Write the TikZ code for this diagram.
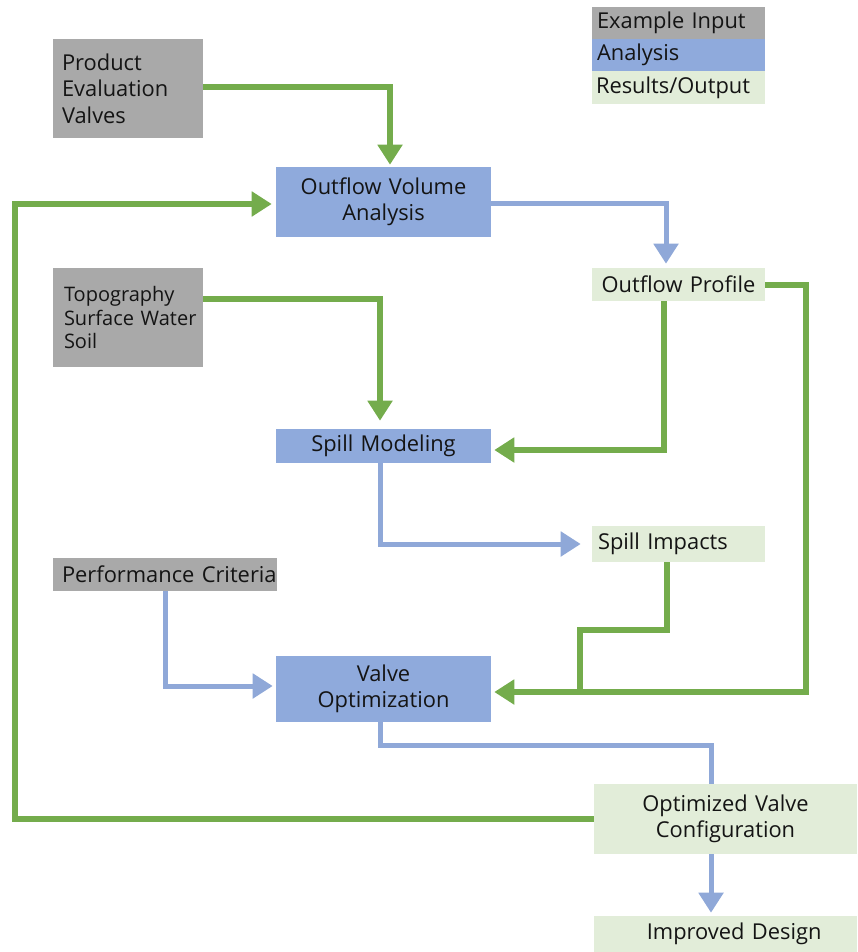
\documentclass[tikz,border=0pt]{standalone}
\usepackage{fontspec}
\setmainfont{Open Sans}
\usetikzlibrary{arrows.meta,calc}
\definecolor{ingray}{RGB}{169,169,169}
\definecolor{anblue}{RGB}{143,170,220}
\definecolor{resgreen}{RGB}{226,237,217}
\definecolor{lgreen}{RGB}{116,172,76}
\definecolor{lblue}{RGB}{143,168,216}
\definecolor{txt}{RGB}{20,20,20}
\def\PX{0.75pt}
\begin{document}
\begin{tikzpicture}[x=0.75pt,y=-0.75pt,
  bx/.style={inner ysep=0pt, text=txt, font=\fontsize{16.4}{19.8}\selectfont},
  gline/.style={draw=lgreen, line width=6*\PX, line join=miter},
  bline/.style={draw=lblue, line width=5*\PX, line join=miter},
  garr/.style={gline, -{Triangle[length=20*\PX, width=24*\PX]}},
  barr/.style={bline, -{Triangle[length=20*\PX, width=24*\PX]}}]
\useasboundingbox (0,0) rectangle (857,952);
% legend
\node[bx, fill=ingray, minimum width=173*\PX, minimum height=32*\PX, text width=163*\PX, inner xsep=5*\PX, align=left] (l1) at (678.5,23) {\raisebox{-2pt}{Example Input}};
\node[bx, fill=anblue, minimum width=173*\PX, minimum height=32*\PX, text width=163*\PX, inner xsep=5*\PX, align=left] (l2) at (678.5,55) {Analysis};
\node[bx, fill=resgreen, minimum width=173*\PX, minimum height=33*\PX, text width=165*\PX, inner xsep=4*\PX, align=left] (l3) at (678.5,87.5) {\raisebox{-1pt}{Results/Output}};
% inputs
\node[bx, fill=ingray, minimum width=150*\PX, minimum height=99*\PX, text width=132*\PX, inner xsep=9*\PX, align=left] (pev) at (128,88.5) {Product\\Evaluation\\Valves};
\node[bx, fill=ingray, minimum width=150*\PX, minimum height=99*\PX, text width=128*\PX, inner xsep=11*\PX, align=left, font=\fontsize{15}{17.6}\selectfont] (tss) at (128,317.5) {\mbox{Topography}\\\mbox{Surface Water}\\\mbox{Soil}};
\node[bx, fill=ingray, minimum width=224*\PX, minimum height=33*\PX, text width=206*\PX, inner xsep=9*\PX, align=left] (pc) at (165,574.5) {\mbox{Performance Criteria}};
% analysis
\node[bx, fill=anblue, minimum width=215*\PX, minimum height=70*\PX, text width=205*\PX, inner xsep=5*\PX, align=center] (ova) at (383.5,202) {Outflow Volume\\Analysis};
\node[bx, fill=anblue, minimum width=215*\PX, minimum height=34*\PX, text width=205*\PX, inner xsep=5*\PX, align=center] (sm) at (383.5,446) {Spill Modeling};
\node[bx, fill=anblue, minimum width=215*\PX, minimum height=66*\PX, text width=205*\PX, inner xsep=5*\PX, align=center] (vo) at (383.5,689) {Valve\\Optimization};
% results
\node[bx, fill=resgreen, minimum width=173*\PX, minimum height=33*\PX, text width=163*\PX, inner xsep=5*\PX, align=center] (op) at (678.5,284.5) {Outflow Profile};
\node[bx, fill=resgreen, minimum width=173*\PX, minimum height=36*\PX, text width=161*\PX, inner xsep=6*\PX, align=left] (si) at (678.5,544) {Spill Impacts};
\node[bx, fill=resgreen, minimum width=263*\PX, minimum height=70*\PX, text width=253*\PX, inner xsep=5*\PX, align=center] (ocv) at (725.5,819) {Optimized Valve\\Configuration};
\node[bx, fill=resgreen, minimum width=263*\PX, minimum height=36*\PX, text width=253*\PX, inner xsep=5*\PX, align=center] (idn) at (725.5,934) {\hspace*{13pt}\raisebox{-2pt}{Improved Design}};
% helper coordinates
\coordinate (lp) at (15,0);
\coordinate (rt) at (806,692);
\coordinate (kn) at (580,630);
\coordinate (jn) at (580,692);
% connectors
\draw[garr, shorten >=2*\PX] ($(pev.east)+(0,-1.5)$) -| ($(ova.north)+(6.5,0)$);
\draw[garr, shorten >=4*\PX] (ocv.west) -- (ocv.west -| lp) |- ($(ova.west)+(0,2)$);
\draw[barr, shorten >=4*\PX] ($(ova.east)+(0,2)$) -| ($(op.north)+(-12.5,0)$);
\draw[garr, shorten >=8*\PX] ($(tss.north east)+(0,31)$) -| ($(sm.north)+(-3.5,0)$);
\draw[garr, shorten >=3*\PX] ($(op.south)+(-15,0)$) |- ($(sm.east)+(0,4)$);
\draw[barr, shorten >=11*\PX] ($(sm.south)+(-3.5,0)$) |- (si.west);
\draw[gline] ($(si.south)+(-11.5,0)$) |- (kn) -- (jn);
\draw[garr, shorten >=3*\PX] (op.east) -| (rt) -- ($(vo.east)+(0,3)$);
\draw[barr, shorten >=3*\PX] (pc.south) |- ($(vo.west)+(0,-3)$);
\draw[bline] ($(vo.south)+(-3.5,0)$) |- ($(ocv.north)+(-14.5,-38)$) -- ($(ocv.north)+(-14.5,0)$);
\draw[barr, shorten >=3*\PX] ($(ocv.south)+(-14.5,0)$) -- ($(idn.north)+(-14.5,0)$);
\end{tikzpicture}
\end{document}
